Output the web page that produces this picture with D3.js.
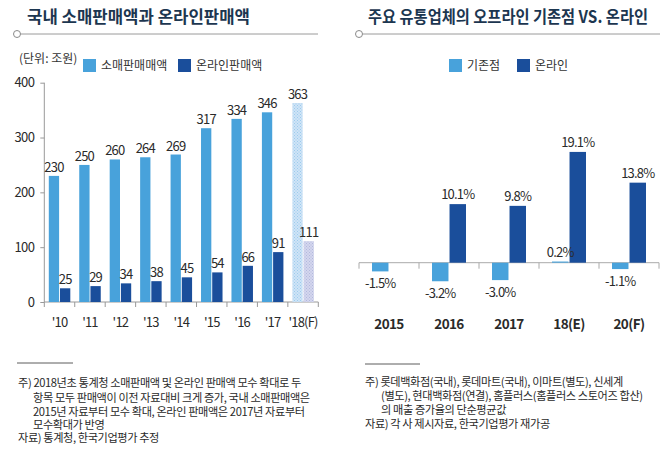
<!DOCTYPE html>
<html><head><meta charset="utf-8">
<script src="https://cdn.jsdelivr.net/npm/d3@7"></script>
<style>
body{margin:0;background:#fff;}
svg{display:block;font-family:"Noto Sans CJK KR","Noto Sans",sans-serif;}
</style></head>
<body><svg id="c" width="670" height="461"></svg>
<script>
// ---- Left chart data ----
const years = ["'10","'11","'12","'13","'14","'15","'16","'17","'18(F)"];
const retailSales = [230,250,260,264,269,317,334,346,363];
const onlineSales = [25,29,34,38,45,54,66,91,111];
const leftTicks = [0,100,200,300,400];
const forecastIndex = 8;
// ---- Right chart data ----
const periods = ["2015","2016","2017","18(E)","20(F)"];
const offlineGrowth = [-1.5,-3.2,-3.0,0.2,-1.1];
const onlineGrowth = [null,10.1,9.8,19.1,13.8];

const C_LIGHT = "#48a2db", C_DARK = "#1a4e9b";
const TITLE_C = "#1c3650", TXT = "#2a2a2a";
const svg = d3.select("#c");

const defs = svg.append("defs");
function dots(id, bg, fg){
  const p = defs.append("pattern").attr("id",id).attr("width",3).attr("height",3).attr("patternUnits","userSpaceOnUse");
  p.append("rect").attr("width",3).attr("height",3).attr("fill",bg);
  p.append("rect").attr("width",1).attr("height",1).attr("fill",fg);
  p.append("rect").attr("x",1.5).attr("y",1.5).attr("width",1).attr("height",1).attr("fill",fg);
}
dots("fRetail","#cfe4f6","#9ccbee");
dots("fOnline","#d3d6ee","#b3b8dd");

function header(x, y, text, len, lx1, lx2){
  svg.append("text").attr("x",x).attr("y",y).attr("font-size",16.5).attr("font-weight",700)
    .attr("fill",TITLE_C).attr("textLength",len).attr("lengthAdjust","spacingAndGlyphs").text(text);
  svg.append("line").attr("x1",lx1+3.5).attr("x2",lx2).attr("y1",34).attr("y2",34).attr("stroke","#9a9a9a").attr("stroke-width",1);
  svg.append("circle").attr("cx",lx1).attr("cy",34).attr("r",3.5).attr("fill","#fff").attr("stroke","#8a8a8a").attr("stroke-width",1);
}
function legendItem(x, y, color, label){
  svg.append("rect").attr("x",x).attr("y",y).attr("width",13).attr("height",13).attr("fill",color);
  svg.append("text").attr("x",x+18).attr("y",y+11).attr("font-size",12).attr("fill","#333").text(label);
}

// ================= LEFT =================
header(27, 23, "국내 소매판매액과 온라인판매액", 223, 17, 318);
svg.append("text").attr("x",19).attr("y",63).attr("font-size",12).attr("fill","#333").text("(단위: 조원)");
legendItem(83, 59, C_LIGHT, "소매판매매액");
legendItem(178, 59, C_DARK, "온라인판매액");

const yL = d3.scaleLinear().domain([0,400]).range([302,82.7]);
const xL = d3.scaleBand().domain(years).range([44.3,318.3]).padding(0);
const xL1 = d3.scaleBand().domain(["r","o"]).range([4.5,26]).paddingInner(0.08);

const gy = svg.append("g").attr("transform","translate(44.3,0)")
  .call(d3.axisLeft(yL).tickValues(leftTicks).tickSize(4).tickPadding(6));
gy.select(".domain").attr("stroke","#999").attr("d","M0,82.7V302");
gy.selectAll(".tick line").attr("stroke","#999");
gy.selectAll(".tick text").attr("font-size",13).attr("fill",TXT).attr("font-family","Noto Sans CJK KR").attr("letter-spacing",-0.6);

// x axis baseline & ticks
svg.append("line").attr("x1",44.3).attr("x2",318.3).attr("y1",yL(0)).attr("y2",yL(0)).attr("stroke","#999");
svg.append("g").selectAll("line").data(years.concat(["end"])).join("line")
  .attr("x1",(d,i)=> i<years.length ? xL(d) : xL.range()[1])
  .attr("x2",(d,i)=> i<years.length ? xL(d) : xL.range()[1])
  .attr("y1",yL(0)).attr("y2",yL(0)+5).attr("stroke","#999");
svg.append("g").selectAll("text").data(years).join("text")
  .attr("x",d=>xL(d)+xL.bandwidth()/2).attr("y",327).attr("text-anchor","middle")
  .attr("font-size",13).attr("fill",TXT).attr("letter-spacing",-0.8).text(d=>d);

const leftData = years.map((y,i)=>({y, i, r:retailSales[i], o:onlineSales[i]}));
const gL = svg.append("g");
gL.selectAll("rect.r").data(leftData).join("rect")
  .attr("x",d=>xL(d.y)+xL1("r")).attr("width",xL1.bandwidth())
  .attr("y",d=>yL(d.r)).attr("height",d=>yL(0)-yL(d.r))
  .attr("fill",d=>d.i===forecastIndex?"url(#fRetail)":C_LIGHT);
gL.selectAll("rect.o").data(leftData).join("rect")
  .attr("x",d=>xL(d.y)+xL1("o")).attr("width",xL1.bandwidth())
  .attr("y",d=>yL(d.o)).attr("height",d=>yL(0)-yL(d.o))
  .attr("fill",d=>d.i===forecastIndex?"url(#fOnline)":C_DARK);
gL.selectAll("text.r").data(leftData).join("text")
  .attr("x",d=>xL(d.y)+xL1("r")+xL1.bandwidth()/2).attr("y",d=>yL(d.r)-4)
  .attr("text-anchor","middle").attr("font-size",13).attr("fill",TXT).attr("letter-spacing",-0.8).text(d=>d.r);
gL.selectAll("text.o").data(leftData).join("text")
  .attr("x",d=>xL(d.y)+xL1("o")+xL1.bandwidth()/2).attr("y",d=>yL(d.o)-4)
  .attr("text-anchor","middle").attr("font-size",13).attr("fill",TXT).attr("letter-spacing",-0.8).text(d=>d.o);

// ================= RIGHT =================
header(368, 23, "주요 유통업체의 오프라인 기존점 VS. 온라인", 280, 359, 660);
legendItem(449, 59, C_LIGHT, "기존점");
legendItem(517, 59, C_DARK, "온라인");

const yR = d3.scaleLinear().domain([0,20]).range([262.7,146.7]);
const xR = d3.scaleBand().domain(periods).range([359,659]).padding(0);
const xR1 = d3.scaleBand().domain(["off","on"]).range([13,47]).paddingInner(0.06);

svg.append("line").attr("x1",359).attr("x2",659).attr("y1",yR(0)).attr("y2",yR(0)).attr("stroke","#aaa");
svg.append("g").selectAll("line").data(periods.concat(["end"])).join("line")
  .attr("x1",(d,i)=> i<periods.length ? xR(d) : xR.range()[1])
  .attr("x2",(d,i)=> i<periods.length ? xR(d) : xR.range()[1])
  .attr("y1",yR(0)).attr("y2",yR(0)+6).attr("stroke","#aaa");
svg.append("g").selectAll("text").data(periods).join("text")
  .attr("x",d=>xR(d)+xR.bandwidth()/2).attr("y",329).attr("text-anchor","middle")
  .attr("font-size",13.5).attr("font-weight",700).attr("fill",TXT).attr("letter-spacing",-0.6).text(d=>d);

const rightBars = [];
periods.forEach((p,i)=>{
  rightBars.push({p, k:"off", v:offlineGrowth[i], c:C_LIGHT});
  if(onlineGrowth[i]!==null) rightBars.push({p, k:"on", v:onlineGrowth[i], c:C_DARK});
});
const gR = svg.append("g");
gR.selectAll("rect").data(rightBars).join("rect")
  .attr("x",d=>xR(d.p)+xR1(d.k)).attr("width",xR1.bandwidth())
  .attr("y",d=>Math.min(yR(d.v),yR(0))).attr("height",d=>Math.abs(yR(d.v)-yR(0)))
  .attr("fill",d=>d.c);
gR.selectAll("text").data(rightBars).join("text")
  .attr("x",d=>xR(d.p)+xR1(d.k)+xR1.bandwidth()/2)
  .attr("y",d=> d.v>=0 ? yR(d.v)-5 : yR(d.v)+17)
  .attr("text-anchor","middle").attr("font-size",13).attr("fill",TXT).attr("letter-spacing",-0.8)
  .text(d=>d.v.toFixed(1)+"%");

// ================= FOOTNOTES =================
function notes(x, lineY, lineW, lines){
  svg.append("line").attr("x1",x).attr("x2",x+lineW).attr("y1",lineY).attr("y2",lineY).attr("stroke","#333").attr("stroke-width",0.8);
  const g = svg.append("g");
  g.selectAll("text").data(lines).join("text")
    .attr("x",d=>x+d[0]).attr("y",d=>d[1]).attr("font-size",11.2).attr("fill",TXT).attr("letter-spacing",-0.4).text(d=>d[2]);
}
notes(17, 363, 56, [
  [1,387,"주) 2018년초 통계청 소매판매액 및 온라인 판매액 모수 확대로 두"],
  [16,402,"항목 모두 판매액이 이전 자료대비 크게  증가, 국내 소매판매액은"],
  [16,416,"2015년 자료부터 모수 확대, 온라인 판매액은 2017년 자료부터"],
  [16,429,"모수확대가 반영"],
  [1,442,"자료) 통계청, 한국기업평가 추정"]
]);
notes(365, 364, 55, [
  [0,386,"주) 롯데백화점(국내), 롯데마트(국내), 이마트(별도), 신세계"],
  [16,400,"(별도), 현대백화점(연결), 홈플러스(홈플러스 스토어즈 합산)"],
  [16,414,"의 매출 증가율의 단순평균값"],
  [0,428,"자료) 각 사 제시자료, 한국기업평가 재가공"]
]);
</script></body></html>
